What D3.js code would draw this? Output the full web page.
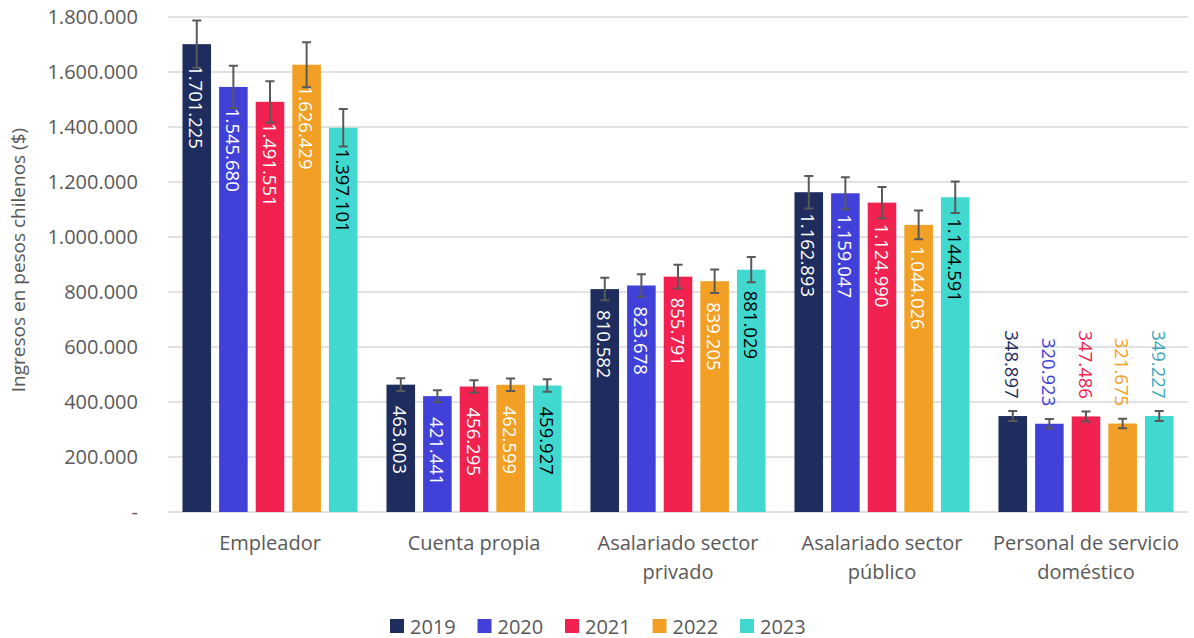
<!DOCTYPE html>
<html>
<head>
<meta charset="utf-8">
<script src="https://cdn.jsdelivr.net/npm/d3@7"></script>
<style>
  body { margin: 0; background: #fff; }
  svg text { font-family: "Open Sans", sans-serif; }
</style>
</head>
<body>
<div id="chart"></div>
<script>
// data
const categories = [`Empleador`, `Cuenta propia`, `Asalariado sector privado`, `Asalariado sector público`, `Personal de servicio doméstico`]
const years = [`2019`, `2020`, `2021`, `2022`, `2023`]

const values2019 = [1701225, 463003, 810582, 1162893, 348897]
const values2020 = [1545680, 421441, 823678, 1159047, 320923]
const values2021 = [1491551, 456295, 855791, 1124990, 347486]
const values2022 = [1626429, 462599, 839205, 1044026, 321675]
const values2023 = [1397101, 459927, 881029, 1144591, 349227]

// error bar half-widths
const errors2019 = [86000, 23000, 41000, 59000, 18000]
const errors2020 = [77000, 21000, 41000, 58000, 17000]
const errors2021 = [75000, 23000, 43000, 57000, 18000]
const errors2022 = [82000, 23000, 43000, 52000, 17000]
const errors2023 = [68000, 23000, 46000, 57000, 18000]

const yTicks = [0, 200000, 400000, 600000, 800000, 1000000, 1200000, 1400000, 1600000, 1800000]
const yTitle = `Ingresos en pesos chilenos ($)`

// styles
const barColors = [`#1e2d5e`, `#4141d9`, `#f1224f`, `#f2a025`, `#41d9cf`]
const insideText = [`#fff`, `#fff`, `#fff`, `#fff`, `#000`]
const outsideText = [`#1e2d5e`, `#4141d9`, `#f1224f`, `#f2a025`, `#3aa8bd`]

const valuesByYear = [values2019, values2020, values2021, values2022, values2023]
const errorsByYear = [errors2019, errors2020, errors2021, errors2022, errors2023]

// build a flat table for d3
const rows = []
years.forEach((yr, i) => {
  categories.forEach((cat, j) => {
    rows.push({ year: yr, yi: i, category: cat, value: valuesByYear[i][j], error: errorsByYear[i][j] })
  })
})

const width = 1194, height = 638
const plot = { left: 168, right: 1188, top: 17, bottom: 512 }

const fmt = d3.formatLocale({ decimal: `,`, thousands: `.`, grouping: [3], currency: [`$`, ``] }).format(`,d`)

const svg = d3.select(`#chart`).append(`svg`)
  .attr(`width`, width)
  .attr(`height`, height)

// scales
const x0 = d3.scaleBand().domain(categories).range([plot.left, plot.right]).padding(0)
const bw = x0.bandwidth()
const x1 = d3.scaleBand().domain(years).range([bw * 0.071, bw * 0.929]).paddingInner(0.22)
const y = d3.scaleLinear().domain([0, 1800000]).range([plot.bottom, plot.top])

// gridlines
svg.append(`g`).selectAll(`line`)
  .data(yTicks)
  .join(`line`)
  .attr(`x1`, plot.left)
  .attr(`x2`, plot.right)
  .attr(`y1`, d => y(d))
  .attr(`y2`, d => y(d))
  .attr(`stroke`, `#d9d9d9`)
  .attr(`stroke-width`, 1.5)

// y axis
const yAxis = svg.append(`g`)
  .attr(`transform`, `translate(${plot.left},0)`)
  .call(d3.axisLeft(y).tickValues(yTicks).tickSize(0).tickPadding(30)
    .tickFormat(d => d === 0 ? `-` : fmt(d)))
yAxis.select(`.domain`).remove()
yAxis.selectAll(`text`)
  .attr(`fill`, `#595959`)
  .style(`font-size`, `20px`)

// y title
svg.append(`text`)
  .attr(`transform`, `translate(18,260) rotate(-90)`)
  .attr(`text-anchor`, `middle`)
  .attr(`dominant-baseline`, `central`)
  .attr(`fill`, `#595959`)
  .style(`font-size`, `19px`)
  .text(yTitle)

// x axis labels
const xAxis = svg.append(`g`)
  .attr(`transform`, `translate(0,${plot.bottom})`)
  .call(d3.axisBottom(x0).tickSize(0).tickPadding(0))
xAxis.select(`.domain`).remove()
xAxis.selectAll(`text`)
  .attr(`fill`, `#595959`)
  .style(`font-size`, `20px`)
  .attr(`y`, 38)
  .attr(`dy`, 0)
  .each(function(d) { wrap(d3.select(this), 200) })

// bars
const groups = svg.append(`g`).selectAll(`g`)
  .data(rows)
  .join(`g`)
  .attr(`transform`, d => `translate(${x0(d.category) + x1(d.year)},0)`)

groups.append(`rect`)
  .attr(`x`, 0)
  .attr(`y`, d => y(d.value))
  .attr(`width`, x1.bandwidth())
  .attr(`height`, d => y(0) - y(d.value))
  .attr(`fill`, d => barColors[d.yi])

// data labels (inside end when they fit, otherwise outside)
groups.append(`text`)
  .style(`font-size`, `18.5px`)
  .attr(`dominant-baseline`, `central`)
  .text(d => fmt(d.value))
  .each(function(d) {
    const t = d3.select(this)
    const len = this.getComputedTextLength()
    const h = y(0) - y(d.value)
    const cx = x1.bandwidth() / 2
    if(h >= len + 42) {
      t.attr(`text-anchor`, `start`)
        .attr(`fill`, insideText[d.yi])
        .attr(`transform`, `translate(${cx},${y(d.value) + 21}) rotate(90)`)
    } else {
      t.attr(`text-anchor`, `end`)
        .attr(`fill`, outsideText[d.yi])
        .attr(`transform`, `translate(${cx},${y(d.value) - 17.5}) rotate(90)`)
    }
  })

// error bars
const cap = 4.5
groups.each(function(d) {
  const g = d3.select(this)
  const cx = x1.bandwidth() / 2
  const hi = y(d.value + d.error), lo = y(d.value - d.error)
  const p = d3.path()
  p.moveTo(cx, hi); p.lineTo(cx, lo)
  p.moveTo(cx - cap, hi); p.lineTo(cx + cap, hi)
  p.moveTo(cx - cap, lo); p.lineTo(cx + cap, lo)
  g.append(`path`)
    .attr(`d`, p.toString())
    .attr(`stroke`, `#595959`)
    .attr(`stroke-width`, 2)
    .attr(`fill`, `none`)
})

// legend
const legend = svg.append(`g`).attr(`transform`, `translate(390,626)`)
const items = legend.selectAll(`g`)
  .data(years)
  .join(`g`)
  .attr(`transform`, (d, i) => `translate(${i * 87.5},0)`)
items.append(`rect`)
  .attr(`x`, 0).attr(`y`, -7)
  .attr(`width`, 14).attr(`height`, 14)
  .attr(`fill`, (d, i) => barColors[i])
items.append(`text`)
  .attr(`x`, 20)
  .attr(`dominant-baseline`, `central`)
  .attr(`fill`, `#595959`)
  .style(`font-size`, `20px`)
  .text(d => d)


// wrap axis labels over several lines
function wrap(text, maxWidth) {
  const words = text.text().split(/\s+/)
  const x = text.attr(`x`) || 0
  text.text(null)
  let line = []
  let tspan = text.append(`tspan`).attr(`x`, x).attr(`dy`, 0)
  words.forEach(w => {
    line.push(w)
    tspan.text(line.join(` `))
    if(tspan.node().getComputedTextLength() > maxWidth && line.length > 1) {
      line.pop()
      tspan.text(line.join(` `))
      line = [w]
      tspan = text.append(`tspan`).attr(`x`, x).attr(`dy`, `29px`).text(w)
    }
  })
}
</script>
</body>
</html>
